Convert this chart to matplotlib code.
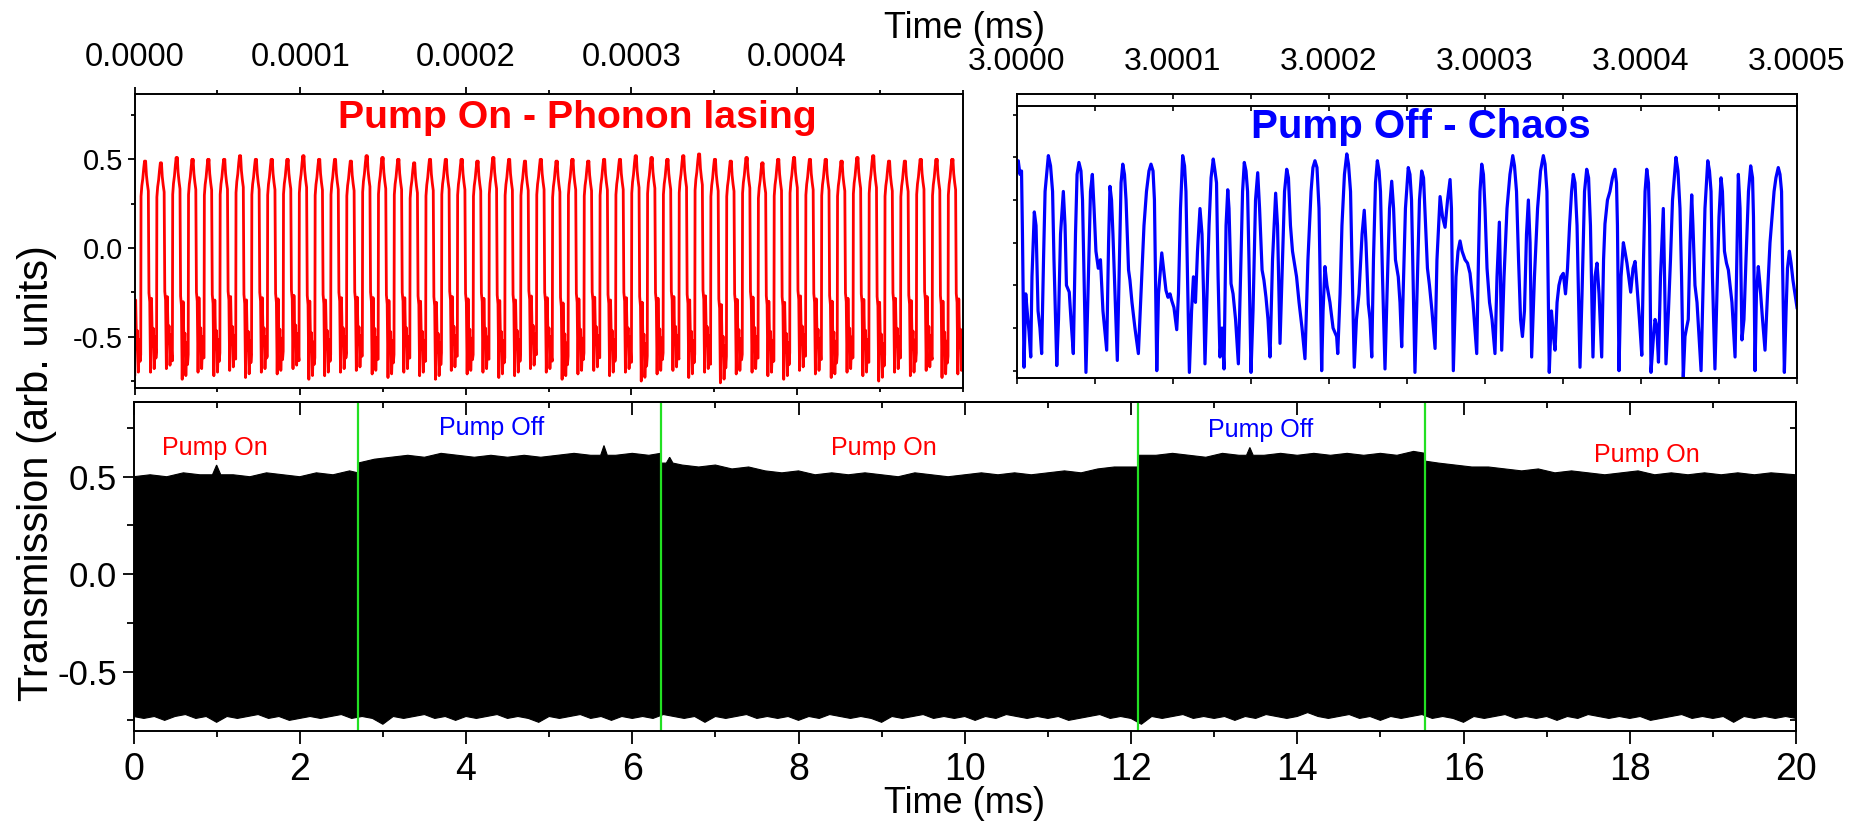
import numpy as np
import matplotlib.pyplot as plt
from matplotlib.ticker import MultipleLocator, FixedLocator, FormatStrFormatter

plt.rcParams['font.family'] = ['Liberation Sans', 'DejaVu Sans']

W, H = 1856, 821

# ---------------- data ----------------
# pump switching instants (ms)
switch_ms = [2.70, 6.34, 12.09, 15.54]

# envelope of the 20 ms record: upper edge per pump segment, lower edge
up_ms = [0.0, 0.2, 0.4, 0.6, 0.8, 0.95, 1.0, 1.05, 1.2, 1.4, 1.6, 1.8, 2.0, 2.2, 2.4, 2.6, 2.70,
         2.70, 2.9, 3.1, 3.3, 3.5, 3.7, 3.9, 4.1, 4.3, 4.5, 4.7, 4.9, 5.1, 5.3, 5.5, 5.62, 5.66, 5.70,
         5.8, 6.0, 6.2, 6.34,
         6.34, 6.41, 6.45, 6.49, 6.6, 6.8, 7.0, 7.2, 7.4, 7.6, 7.8, 8.0, 8.2, 8.4, 8.6, 8.8, 9.0, 9.2,
         9.4, 9.6, 9.8, 10.0, 10.2, 10.4, 10.6, 10.8, 11.0, 11.2, 11.4, 11.6, 11.8, 12.09,
         12.09, 12.3, 12.5, 12.7, 12.9, 13.1, 13.3, 13.39, 13.43, 13.47, 13.6, 13.8, 14.0, 14.2, 14.4,
         14.6, 14.8, 15.0, 15.2, 15.4, 15.54,
         15.54, 15.7, 15.9, 16.1, 16.3, 16.5, 16.7, 16.9, 17.1, 17.3, 17.5, 17.7, 17.9, 18.1, 18.3, 18.5,
         18.7, 18.9, 19.1, 19.3, 19.5, 19.7, 20.0]
up_val = [0.50, 0.51, 0.50, 0.52, 0.51, 0.51, 0.56, 0.51, 0.51, 0.50, 0.52, 0.51, 0.50, 0.52, 0.51, 0.53, 0.52,
          0.57, 0.59, 0.60, 0.61, 0.60, 0.62, 0.61, 0.60, 0.61, 0.60, 0.61, 0.60, 0.61, 0.62, 0.61, 0.61, 0.66, 0.61,
          0.61, 0.62, 0.61, 0.62,
          0.57, 0.57, 0.60, 0.57, 0.56, 0.55, 0.56, 0.54, 0.55, 0.53, 0.52, 0.53, 0.51, 0.52, 0.51, 0.52, 0.51, 0.50,
          0.52, 0.51, 0.50, 0.51, 0.52, 0.51, 0.52, 0.51, 0.52, 0.53, 0.52, 0.54, 0.55, 0.55,
          0.61, 0.61, 0.62, 0.61, 0.60, 0.62, 0.61, 0.61, 0.65, 0.61, 0.61, 0.62, 0.61, 0.62, 0.61,
          0.62, 0.61, 0.62, 0.61, 0.63, 0.62,
          0.58, 0.57, 0.56, 0.55, 0.55, 0.54, 0.53, 0.54, 0.52, 0.53, 0.52, 0.51, 0.52, 0.53, 0.51, 0.52,
          0.51, 0.52, 0.51, 0.52, 0.51, 0.52, 0.51]
lo_ms = np.linspace(0, 20, 161)
lo_val = [-0.73, -0.74, -0.73, -0.75, -0.73, -0.72, -0.74, -0.73, -0.76, -0.73,
          -0.74, -0.73, -0.72, -0.74, -0.73, -0.75, -0.74, -0.73, -0.74, -0.73,
          -0.72, -0.74, -0.73, -0.74, -0.77, -0.73, -0.74, -0.73, -0.72, -0.74,
          -0.73, -0.75, -0.73, -0.74, -0.73, -0.72, -0.74, -0.73, -0.74, -0.76,
          -0.73, -0.74, -0.73, -0.72, -0.74, -0.73, -0.75, -0.73, -0.74, -0.73,
          -0.74, -0.72, -0.73, -0.74, -0.73, -0.76, -0.73, -0.74, -0.73, -0.72,
          -0.74, -0.73, -0.74, -0.73, -0.75, -0.73, -0.74, -0.72, -0.73, -0.74,
          -0.73, -0.74, -0.76, -0.73, -0.74, -0.73, -0.72, -0.74, -0.73, -0.74,
          -0.73, -0.75, -0.73, -0.74, -0.72, -0.73, -0.74, -0.73, -0.74, -0.73,
          -0.75, -0.74, -0.73, -0.72, -0.74, -0.73, -0.74, -0.77, -0.73, -0.74,
          -0.73, -0.72, -0.74, -0.73, -0.74, -0.73, -0.75, -0.73, -0.74, -0.72,
          -0.73, -0.74, -0.73, -0.71, -0.73, -0.74, -0.73, -0.72, -0.74, -0.73,
          -0.75, -0.73, -0.74, -0.73, -0.72, -0.74, -0.73, -0.74, -0.76, -0.73,
          -0.74, -0.73, -0.72, -0.74, -0.73, -0.74, -0.73, -0.75, -0.73, -0.74,
          -0.72, -0.73, -0.74, -0.73, -0.74, -0.73, -0.75, -0.74, -0.73, -0.72,
          -0.74, -0.73, -0.74, -0.73, -0.76, -0.73, -0.74, -0.73, -0.74, -0.73,
          -0.74]

# pump on: one cycle of the phonon-lasing waveform (phase relative to the peak)
red_period_ns = 9.56
red_first_peak_ns = -3.34
red_phase = [-0.27, -0.25, -0.20, -0.14, -0.08, -0.03, 0.00, 0.04, 0.09, 0.15, 0.21,
             0.25, 0.30, 0.35, 0.41, 0.47, 0.52, 0.58, 0.65, 0.69]
red_shape = [-0.60, 0.30, 0.36, 0.40, 0.46, 0.50, 0.47, 0.50, 0.42, 0.37, 0.33,
             -0.25, -0.30, -0.70, -0.28, -0.55, -0.45, -0.68, -0.50, -0.62]
# cycle maxima and minima, one per period
red_peak = [0.50,
            0.49, 0.48, 0.51, 0.50, 0.50, 0.50, 0.52, 0.50, 0.50, 0.50, 0.52, 0.50, 0.50,
            0.49, 0.52, 0.51, 0.50, 0.48, 0.50, 0.50, 0.50, 0.49, 0.51, 0.50, 0.49, 0.50,
            0.49, 0.50, 0.49, 0.50, 0.50, 0.52, 0.51, 0.50, 0.52, 0.53, 0.50, 0.49, 0.51,
            0.48, 0.50, 0.51, 0.50, 0.50, 0.49, 0.51, 0.52, 0.49, 0.49, 0.50, 0.50, 0.50]
red_trough = [-0.72, -0.70, -0.68, -0.74, -0.70, -0.72, -0.69, -0.73, -0.70, -0.71,
              -0.68, -0.74, -0.72, -0.70, -0.69, -0.71, -0.73, -0.70, -0.72, -0.74,
              -0.69, -0.71, -0.70, -0.73, -0.72, -0.68, -0.70, -0.74, -0.71, -0.69,
              -0.72, -0.70, -0.75, -0.71, -0.69, -0.73, -0.70, -0.76, -0.71, -0.70,
              -0.72, -0.74, -0.69, -0.71, -0.73, -0.70, -0.72, -0.75, -0.70, -0.72,
              -0.69, -0.73, -0.71]

# pump off: chaotic trace, turning points (ns after 3.0000 ms, value)
blue_points = [
    (0.0, 0.42), (0.8, 0.48), (1.9, 0.40), (2.9, 0.42), (3.5, 0.05), (4.5, -0.73), (5.6, -0.30),
    (6.7, -0.42), (7.7, -0.52), (8.8, -0.67), (9.6, -0.20), (11.1, 0.18), (12.2, 0.10), (13.5, -0.40),
    (14.7, -0.50), (15.8, -0.65), (17.0, -0.10), (18.0, 0.30), (20.1, 0.51), (21.5, 0.45), (22.8, 0.30),
    (23.7, -0.10), (25.5, -0.72), (26.6, -0.45), (27.9, 0.05), (29.7, 0.30), (30.8, 0.10), (31.7, -0.25),
    (33.5, -0.29), (34.6, -0.45), (36.1, -0.65), (37.5, 0.05), (38.5, 0.40), (39.7, 0.47), (41.0, 0.42),
    (42.0, 0.25), (43.0, -0.20), (44.2, -0.76), (45.5, -0.30), (47.1, 0.30), (48.3, 0.40), (49.4, 0.20),
    (50.6, -0.05), (52.1, -0.15), (53.5, -0.10), (55.1, -0.40), (57.5, -0.63), (58.7, 0.00), (59.6, 0.33),
    (60.6, 0.25), (61.5, 0.05), (64.3, -0.69), (65.7, -0.10), (66.7, 0.35), (67.8, 0.46), (68.9, 0.40),
    (69.9, 0.25), (71.5, -0.16), (72.4, -0.22), (73.7, -0.35), (75.6, -0.50), (77.8, -0.65), (79.5, -0.30),
    (81.4, 0.10), (83.0, 0.30), (84.6, 0.42), (85.9, 0.46), (87.2, 0.42), (88.1, 0.25), (89.6, -0.75),
    (90.7, -0.30), (92.8, -0.06), (93.9, -0.15), (95.5, -0.28), (96.8, -0.32), (98.1, -0.30), (99.2, -0.34),
    (100.6, -0.38), (102.4, -0.51), (103.5, -0.30), (104.8, 0.20), (106.2, 0.51), (107.4, 0.45), (108.3, 0.30),
    (109.3, -0.20), (110.5, -0.76), (111.9, -0.40), (113.1, -0.20), (114.4, -0.35), (115.7, -0.05), (117.3, 0.20),
    (118.6, 0.05), (119.6, -0.30), (120.5, -0.71), (121.8, -0.30), (123.1, 0.10), (124.4, 0.38), (125.8, 0.49),
    (126.9, 0.42), (127.9, 0.35), (128.9, -0.20), (130.1, -0.67), (131.4, -0.50), (132.7, -0.74), (134.0, 0.10),
    (135.1, 0.31), (135.9, 0.20), (137.2, -0.24), (138.5, -0.30), (140.1, -0.45), (141.9, -0.71), (143.3, -0.20),
    (144.6, 0.30), (145.7, 0.47), (146.8, 0.42), (147.8, 0.30), (148.7, -0.10), (150.0, -0.76), (151.3, -0.40),
    (152.9, 0.25), (154.3, 0.41), (155.5, 0.20), (157.1, -0.16), (158.3, -0.22), (159.6, -0.32), (160.9, -0.45),
    (162.2, -0.67), (163.8, -0.10), (165.8, 0.29), (167.0, 0.10), (168.6, -0.59), (169.9, -0.20), (171.5, 0.30),
    (172.9, 0.43), (174.0, 0.38), (175.3, 0.10), (176.6, -0.05), (177.8, -0.12), (179.2, -0.20), (180.8, -0.35),
    (182.7, -0.50), (184.6, -0.68), (186.5, -0.10), (188.5, 0.30), (189.7, 0.44), (191.0, 0.48), (192.3, 0.44),
    (193.6, 0.20), (195.3, -0.75), (196.2, -0.40), (197.4, -0.14), (198.7, -0.25), (200.6, -0.35), (202.6, -0.50),
    (204.9, -0.55), (205.6, -0.65), (207.1, -0.30), (208.3, 0.10), (209.9, 0.40), (211.4, 0.52), (212.5, 0.46),
    (213.8, 0.30), (214.7, -0.10), (216.2, -0.73), (217.6, -0.45), (219.2, -0.30), (221.2, 0.05), (222.6, 0.19),
    (223.7, 0.00), (225.2, -0.36), (226.3, -0.45), (227.4, -0.67), (228.5, -0.10), (229.8, 0.35), (231.0, 0.48),
    (232.1, 0.42), (233.0, 0.30), (234.3, -0.20), (235.9, -0.74), (237.2, -0.30), (238.8, 0.20), (240.2, 0.36),
    (241.4, 0.20), (242.6, -0.10), (244.4, -0.20), (245.5, -0.35), (246.6, -0.61), (247.8, -0.20), (249.0, 0.20),
    (250.8, 0.44), (251.9, 0.40), (252.9, 0.25), (253.9, -0.20), (255.1, -0.76), (256.4, -0.30), (258.0, 0.25),
    (259.4, 0.42), (260.6, 0.38), (261.9, 0.10), (263.1, -0.15), (264.4, -0.25), (266.0, -0.40), (268.0, -0.62),
    (269.2, -0.10), (271.2, 0.27), (272.8, 0.15), (274.4, 0.09), (276.0, 0.25), (277.6, 0.37), (278.5, 0.20),
    (279.7, -0.75), (281.4, -0.20), (282.7, -0.05), (284.0, 0.01), (285.3, -0.05), (287.2, -0.10), (288.8, -0.12),
    (290.4, -0.18), (292.3, -0.35), (294.7, -0.65), (295.8, -0.10), (296.8, 0.30), (297.9, 0.46), (299.0, 0.40),
    (300.0, 0.20), (301.3, -0.15), (302.9, -0.35), (304.5, -0.45), (306.4, -0.65), (307.7, -0.20), (309.2, 0.12),
    (309.9, -0.20), (310.7, -0.63), (312.2, -0.20), (314.1, 0.20), (316.0, 0.40), (317.8, 0.51), (318.9, 0.45),
    (320.2, 0.30), (321.5, -0.10), (322.8, -0.45), (324.0, -0.55), (325.3, -0.40), (326.6, 0.05), (327.8, 0.25),
    (328.9, 0.00), (329.9, -0.67), (331.7, -0.20), (333.7, 0.20), (335.6, 0.42), (337.4, 0.51), (338.5, 0.46),
    (339.7, 0.30), (341.2, -0.76), (342.6, -0.40), (343.9, -0.55), (344.9, -0.63), (346.2, -0.35), (347.4, -0.25),
    (348.7, -0.20), (350.2, -0.18), (351.6, -0.30), (352.9, -0.15), (354.2, 0.10), (355.5, 0.30), (356.6, 0.40),
    (357.7, 0.35), (359.0, 0.10), (360.9, -0.73), (362.2, -0.30), (363.8, 0.30), (365.2, 0.43), (366.4, 0.38),
    (367.6, 0.10), (369.2, -0.67), (370.5, -0.20), (371.8, -0.12), (373.1, -0.30), (374.8, -0.67), (376.0, -0.10),
    (376.9, 0.11), (378.5, 0.25), (380.1, 0.30), (381.7, 0.38), (383.3, 0.43), (384.3, 0.35), (384.9, 0.10),
    (385.9, -0.75), (387.2, -0.20), (388.7, 0.00), (389.7, -0.05), (391.0, -0.12), (393.4, -0.29), (394.9, -0.15),
    (396.2, -0.11), (397.4, -0.25), (399.0, -0.45), (400.5, -0.66), (401.6, -0.10), (402.6, 0.30), (403.7, 0.43),
    (404.8, 0.35), (405.5, 0.10), (406.4, -0.76), (408.0, -0.55), (409.0, -0.45), (410.1, -0.49), (411.2, -0.70),
    (412.5, -0.20), (414.3, 0.20), (415.1, -0.20), (416.0, -0.71), (417.6, -0.40), (418.9, -0.10), (420.2, 0.25),
    (421.5, 0.40), (422.4, 0.50), (423.7, 0.42), (425.0, 0.20), (426.0, -0.20), (427.1, -0.79), (428.2, -0.55),
    (429.2, -0.50), (430.3, -0.45), (431.4, 0.00), (432.5, 0.28), (433.3, 0.10), (434.6, -0.25), (435.9, -0.35),
    (437.2, -0.55), (438.5, -0.75), (439.7, -0.30), (441.0, 0.20), (442.8, 0.48), (443.9, 0.42), (444.9, 0.30),
    (445.8, -0.20), (447.4, -0.74), (448.7, -0.30), (450.0, 0.15), (451.3, 0.38), (452.2, 0.30), (453.5, -0.05),
    (454.8, -0.12), (456.0, -0.16), (457.1, -0.25), (458.3, -0.35), (460.3, -0.67), (461.2, -0.20), (462.4, 0.40),
    (463.5, 0.20), (464.7, -0.57), (466.0, -0.45), (467.3, -0.10), (468.9, 0.30), (470.3, 0.45), (471.5, 0.38),
    (472.1, 0.15), (473.1, -0.75), (474.0, -0.30), (475.2, -0.14), (476.3, -0.25), (477.9, -0.45), (479.5, -0.63),
    (481.1, -0.30), (482.7, 0.00), (484.0, 0.15), (485.3, 0.30), (486.5, 0.38), (488.0, 0.44), (489.1, 0.40),
    (490.1, 0.30), (490.7, -0.10), (491.9, -0.76), (493.0, -0.40), (493.9, -0.15), (495.1, -0.05), (496.2, -0.12),
    (497.4, -0.22), (498.7, -0.30), (500.0, -0.38),
]

# ---------------- figure ----------------
fig = plt.figure(figsize=(W / 100, H / 100), dpi=100)


def box(x0, y0, x1, y1):
    # pixel box (from top-left) -> figure fraction rect
    return [x0 / W, 1 - y1 / H, (x1 - x0) / W, (y1 - y0) / H]


def frame(ax, lw=1.4):
    for s in ax.spines.values():
        s.set_linewidth(lw)


red = '#ff0000'
blue = '#0000ff'
green = '#22e022'

# --- top left: pump on ---
red_t, red_y = [], []
for k, (hi, lo) in enumerate(zip(red_peak, red_trough)):
    s = np.array(red_shape)
    s = lo + (s - s.min()) / np.ptp(s) * (hi - lo)
    t = red_first_peak_ns + (k + np.array(red_phase)) * red_period_ns
    red_t.extend(t)
    red_y.extend(s)
red_t = np.array(red_t) * 1e-6

ax1 = fig.add_axes(box(134.7, 94, 962.6, 388))
ax1.plot(red_t, red_y, color=red, lw=2.0)
ax1.set_xlim(0, 0.0005)
ax1.set_ylim(-0.789, 0.868)
ax1.xaxis.set_major_locator(FixedLocator([0, 1e-4, 2e-4, 3e-4, 4e-4]))
ax1.xaxis.set_minor_locator(FixedLocator(np.arange(11) * 5e-5))
ax1.xaxis.set_major_formatter(FormatStrFormatter('%.4f'))
ax1.tick_params(axis='x', which='both', direction='out', top=True, bottom=True,
                labeltop=True, labelbottom=False, labelsize=23.5, pad=10)
ax1.tick_params(axis='x', which='major', length=5, width=1.3)
ax1.tick_params(axis='x', which='minor', length=3, width=1.3)
ax1.yaxis.set_major_locator(MultipleLocator(0.5))
ax1.yaxis.set_minor_locator(MultipleLocator(0.25))
ax1.yaxis.set_major_formatter(FormatStrFormatter('%.1f'))
ax1.tick_params(axis='y', which='both', direction='out', right=False, labelsize=21, width=1.3)
ax1.tick_params(axis='y', which='major', length=5)
ax1.tick_params(axis='y', which='minor', length=3)
frame(ax1)
ax1.text(0.535, 0.884, 'Pump On - Phonon lasing', transform=ax1.transAxes,
         ha='center', va='baseline', color=red, fontsize=28.3, fontweight='bold')

# --- top right: pump off ---
blue_ns = np.array([p[0] for p in blue_points])
blue_val = np.array([p[1] for p in blue_points])

ax2 = fig.add_axes(box(1017, 94, 1797, 378))
ax2.plot(3.0 + blue_ns * 1e-6, blue_val, color=blue, lw=2.3)
ax2.set_xlim(3.0, 3.0005)
ax2.set_ylim(-0.793, 0.871)
ax2.xaxis.set_major_locator(FixedLocator(3.0 + np.arange(6) * 1e-4))
ax2.xaxis.set_minor_locator(FixedLocator(3.0 + np.arange(11) * 5e-5))
ax2.xaxis.set_major_formatter(FormatStrFormatter('%.4f'))
ax2.tick_params(axis='x', which='both', direction='in', top=True, bottom=False,
                labeltop=True, labelbottom=False, labelsize=23, pad=12, length=3.5, width=1.2)
ax2.yaxis.set_major_locator(MultipleLocator(0.25))
ax2.tick_params(axis='y', which='both', direction='out', right=False, labelleft=False,
                length=3, width=1.2)
frame(ax2)
ax2_bot = ax2.secondary_xaxis('bottom')
ax2_bot.xaxis.set_major_locator(FixedLocator(3.0 + np.arange(11) * 5e-5))
ax2_bot.tick_params(axis='x', direction='out', labelbottom=False, length=4, width=1.2)
ax2_inner = ax2.secondary_xaxis(1 - 12 / 284)
ax2_inner.xaxis.set_major_locator(FixedLocator(3.0 + np.arange(11) * 5e-5))
ax2_inner.tick_params(axis='x', direction='in', labeltop=False, labelbottom=False, length=3.5, width=1.2)
for a in (ax2_bot, ax2_inner):
    for s in a.spines.values():
        s.set_linewidth(1.4)
ax2.text(0.518, 0.845, 'Pump Off - Chaos', transform=ax2.transAxes,
         ha='center', va='baseline', color=blue, fontsize=29, fontweight='bold')

# --- bottom: full 20 ms record ---
ax3 = fig.add_axes(box(133.5, 401.7, 1796, 730.7))
ax3.fill(np.r_[up_ms, lo_ms[::-1]], np.r_[up_val, np.array(lo_val)[::-1]],
         color='k', lw=0.8)
for t in switch_ms:
    ax3.axvline(t, color=green, lw=1.6)
ax3.set_xlim(0, 20)
ax3.set_ylim(-0.803, 0.885)
ax3.xaxis.set_major_locator(MultipleLocator(2))
ax3.xaxis.set_minor_locator(MultipleLocator(1))
ax3.tick_params(axis='x', which='both', direction='out', top=False, labelsize=27, pad=6, width=1.3)
ax3.tick_params(axis='x', which='major', length=9)
ax3.tick_params(axis='x', which='minor', length=4.5)
ax3.yaxis.set_major_locator(MultipleLocator(0.5))
ax3.yaxis.set_minor_locator(MultipleLocator(0.25))
ax3.yaxis.set_major_formatter(FormatStrFormatter('%.1f'))
ax3.tick_params(axis='y', which='both', direction='out', right=False, labelsize=25, pad=4, width=1.3)
ax3.tick_params(axis='y', which='major', length=8)
ax3.tick_params(axis='y', which='minor', length=5)
frame(ax3)
ax3_top = ax3.secondary_xaxis('top')
ax3_top.xaxis.set_major_locator(MultipleLocator(2))
ax3_top.xaxis.set_minor_locator(MultipleLocator(1))
ax3_top.tick_params(axis='x', which='both', direction='in', labeltop=False, width=1.3)
ax3_top.tick_params(axis='x', which='major', length=9)
ax3_top.tick_params(axis='x', which='minor', length=4.5)
ax3_right = ax3.secondary_yaxis('right')
ax3_right.yaxis.set_major_locator(MultipleLocator(0.25))
ax3_right.tick_params(axis='y', direction='in', labelright=False, length=4, width=1.3)
for a in (ax3_top, ax3_right):
    for s in a.spines.values():
        s.set_linewidth(1.4)

labels = [(0.98, 0.611, 'Pump On', red), (4.31, 0.714, 'Pump Off', blue),
          (9.03, 0.611, 'Pump On', red), (13.56, 0.705, 'Pump Off', blue),
          (18.2, 0.577, 'Pump On', red)]
for x, y, s, c in labels:
    ax3.text(x, y, s, color=c, fontsize=18, ha='center', va='baseline')

# shared axis titles
fig.text(965 / W, 1 - 38 / H, 'Time (ms)', ha='center', va='baseline', fontsize=26)
fig.text(965 / W, 1 - 813 / H, 'Time (ms)', ha='center', va='baseline', fontsize=26)
fig.text(37 / W, 1 - 473 / H, 'Transmission (arb. units)', rotation=90,
         ha='center', va='center', fontsize=30)

fig.savefig('out.png', dpi=100)
